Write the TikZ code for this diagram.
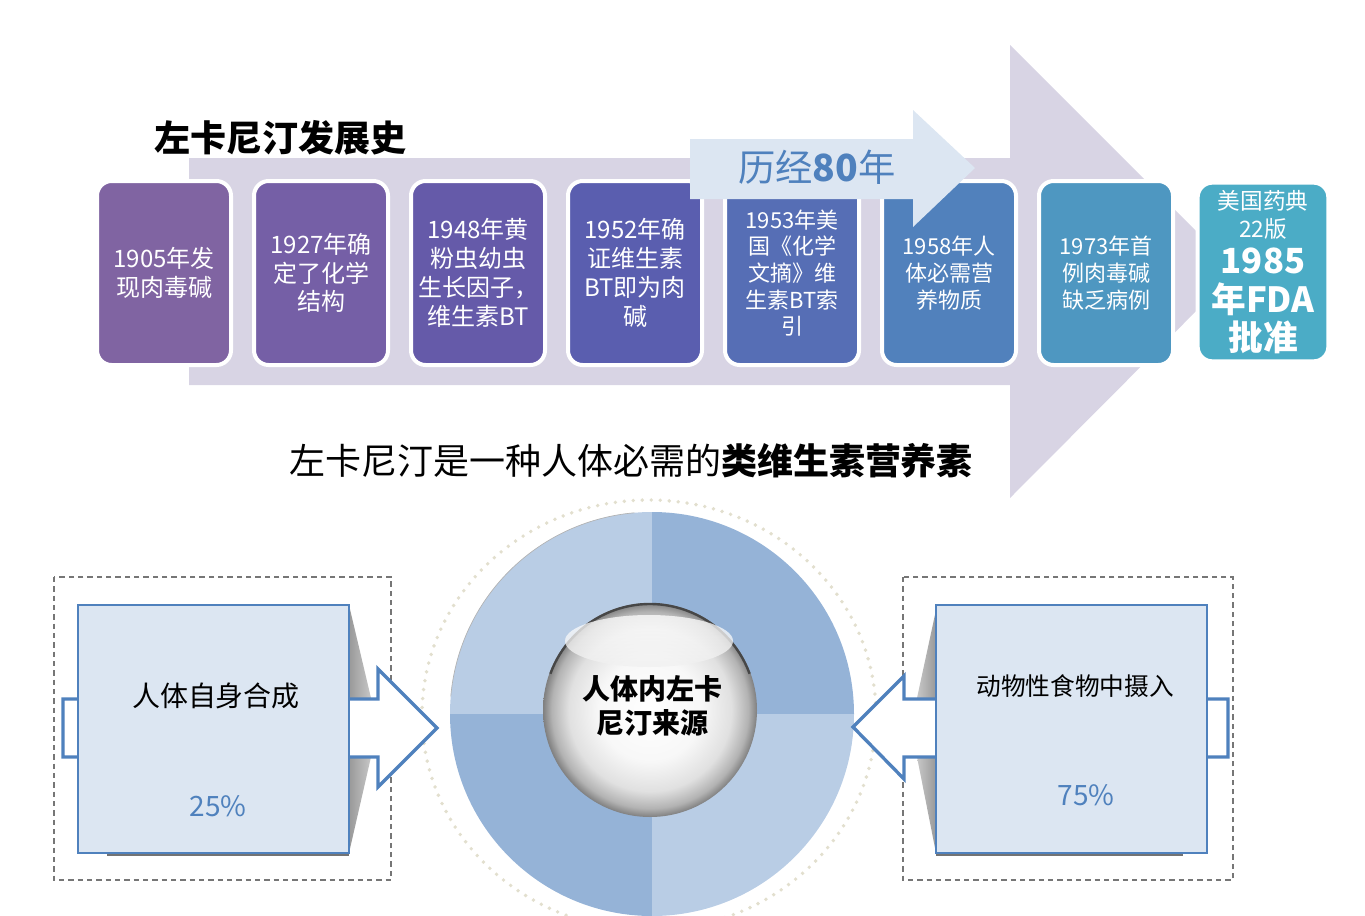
\documentclass[tikz,border=0pt]{standalone}
\usepackage{fontspec}
\setmainfont{Noto Sans CJK SC}
\definecolor{lav}{HTML}{D8D4E4}
\definecolor{lblue}{HTML}{DCE6F2}
\definecolor{sblue}{HTML}{4F81BD}
\definecolor{cA}{HTML}{8064A2}
\definecolor{cB}{HTML}{755FA6}
\definecolor{cC}{HTML}{655AA9}
\definecolor{cD}{HTML}{5A5EAF}
\definecolor{cE}{HTML}{566EB5}
\definecolor{cF}{HTML}{5181BC}
\definecolor{cG}{HTML}{4E97C1}
\definecolor{cH}{HTML}{4BACC6}
\definecolor{qdark}{HTML}{95B3D7}
\definecolor{qlight}{HTML}{B9CDE5}
\definecolor{dashgray}{HTML}{767676}
\definecolor{dotbeige}{HTML}{E2DFCE}
\pgfdeclareradialshading{sphereshade}{\pgfpoint{0bp}{0bp}}{color(0bp)=(white); color(12bp)=(white!97!black); color(19bp)=(white!88!black); color(23bp)=(white!70!black); color(25bp)=(white!50!black); color(50bp)=(white!50!black)}
\tikzset{
  yearbox/.style={rounded corners=11pt, draw=white, line width=3pt, minimum width=100.5pt, minimum height=138pt, text=white, align=center, inner sep=0pt, font=\fontsize{18}{21.75}\selectfont},
  smallyear/.style={font=\fontsize{16.5}{20}\selectfont},
  srcbox/.style={fill=lblue, draw=sblue, line width=1.5pt, minimum width=203.25pt, minimum height=186pt, inner sep=0pt},
  blockarrow/.style={fill=white, draw=sblue, line width=2.5pt, line join=miter},
  dashbox/.style={draw=dashgray, line width=1.1pt, dash pattern=on 4pt off 3pt},
  pct/.style={text=sblue, font=\fontsize{21}{24}\selectfont},
}
\begin{document}
\begin{tikzpicture}[x=0.75pt,y=-0.75pt]
\useasboundingbox (0,0) rectangle (1365,915);
% big background arrow
\fill[lav] (189,158) -- (1010,158) -- (1010,45) -- (1236,271) -- (1010,498) -- (1010,385) -- (189,385) -- cycle;
% title
\node[anchor=west, font=\fontsize{27}{30}\selectfont\bfseries] (title) at (150,138) {左卡尼汀发展史};
% year boxes
\node[yearbox, fill=cA] (b1) at (164,273) {1905年发\\现肉毒碱};
\node[yearbox, fill=cB, font=\fontsize{18}{21.4}\selectfont] (b2) at (321,273) {1927年确\\定了化学\\结构};
\node[yearbox, fill=cC] (b3) at (478,273) {1948年黄\\粉虫幼虫\\生长因子，\\维生素BT};
\node[yearbox, fill=cD] (b4) at (635,273) {1952年确\\证维生素\\BT即为肉\\碱};
\node[yearbox, fill=cE, smallyear] (b5) at (792,273) {1953年美\\国《化学\\文摘》维\\生素BT索\\引};
\node[yearbox, fill=cF, smallyear] (b6) at (949,273) {1958年人\\体必需营\\养物质};
\node[yearbox, fill=cG, smallyear] (b7) at (1106,273) {1973年首\\例肉毒碱\\缺乏病例};
\node[yearbox, fill=cH, minimum height=134pt, minimum width=98pt] (b8) at (1263,272) {};
\node[text=white, align=center, inner sep=0pt, font=\fontsize{17}{21}\selectfont] (b8a) at (1263,215) {美国药典\\22版};
\node[text=white, align=center, inner sep=0pt, font=\fontsize{26}{29}\selectfont\bfseries] (b8b) at (1263,301) {1985\\年FDA\\批准};
% 80 years arrow
\fill[lblue] (690,139) -- (913,139) -- (913,110) -- (975,168) -- (913,227) -- (913,199) -- (690,199) -- cycle;
\node[text=sblue, font=\fontsize{28}{32}\selectfont] (yrs) at (817,167) {历经\textbf{80}年};
% subtitle
\node[font=\fontsize{27}{30}\selectfont] (sub) at (631,461) {左卡尼汀是一种人体必需的\textbf{类维生素营养素}};
% dashed frames
\draw[dashbox] (54,577) rectangle (391,880);
\draw[dashbox] (903,577) rectangle (1233,880);
% dotted ring
\draw[dotbeige, line width=2.9pt, line cap=round, dash pattern=on 0pt off 6.75pt] (649,715) ellipse [x radius=227, y radius=215];
% donut
\begin{scope}
\clip (652,714) circle (202);
\fill[qdark] (652,714) rectangle (860,505);
\fill[qlight] (652,714) rectangle (440,505);
\fill[qdark] (652,714) rectangle (440,920);
\fill[qlight] (652,714) rectangle (860,920);
\end{scope}
\draw[black!30, line width=0.5pt] (652,714) ++(185:202) arc[start angle=185, end angle=265, radius=202];
% sphere
\shade[shading=sphereshade] (650,710) circle (107);
\draw[black!72, line width=1.8pt] (650,710) ++(200:106) arc[start angle=200, end angle=340, radius=106];
\shade[top color=white, bottom color=white!94!black, opacity=0.75] (649,641) ellipse [x radius=84, y radius=26];
\node[align=center, inner sep=0pt, font=\fontsize{21}{25.5}\selectfont\bfseries] (srcTxt) at (652,706) {人体内左卡\\尼汀来源};
% left source
\shade[left color=black!40, right color=black!22] (349,605) -- (371,698) -- (371,757) -- (349,853) -- cycle;
\coordinate (lt) at (63,699);
\draw[blockarrow] (lt) -- (378,699) -- (378,669) -- (437,728) -- (378,787) -- (378,757) -- (63,757) -- cycle;
\fill[black!55] (107,852) rectangle (349,856);
\node[srcbox] (selfbox) at (213.5,729) {};
\node[font=\fontsize{21}{24}\selectfont] (selfTxt) at (216,696) {人体自身合成};
\node[pct] (selfPct) at (218,806) {25\%};
% right source
\shade[right color=black!40, left color=black!22] (936,610) -- (917,698) -- (917,757) -- (936,853) -- cycle;
\coordinate (rt) at (1228,699);
\draw[blockarrow] (rt) -- (904,699) -- (904,676) -- (853,727) -- (904,779) -- (904,757) -- (1228,757) -- cycle;
\fill[black!55] (936,852) rectangle (1183,856);
\node[srcbox] (foodbox) at (1071.5,729) {};
\node[font=\fontsize{18.5}{22}\selectfont] (foodTxt) at (1075,686) {动物性食物中摄入};
\node[pct] (foodPct) at (1086,795) {75\%};
\end{tikzpicture}
\end{document}
